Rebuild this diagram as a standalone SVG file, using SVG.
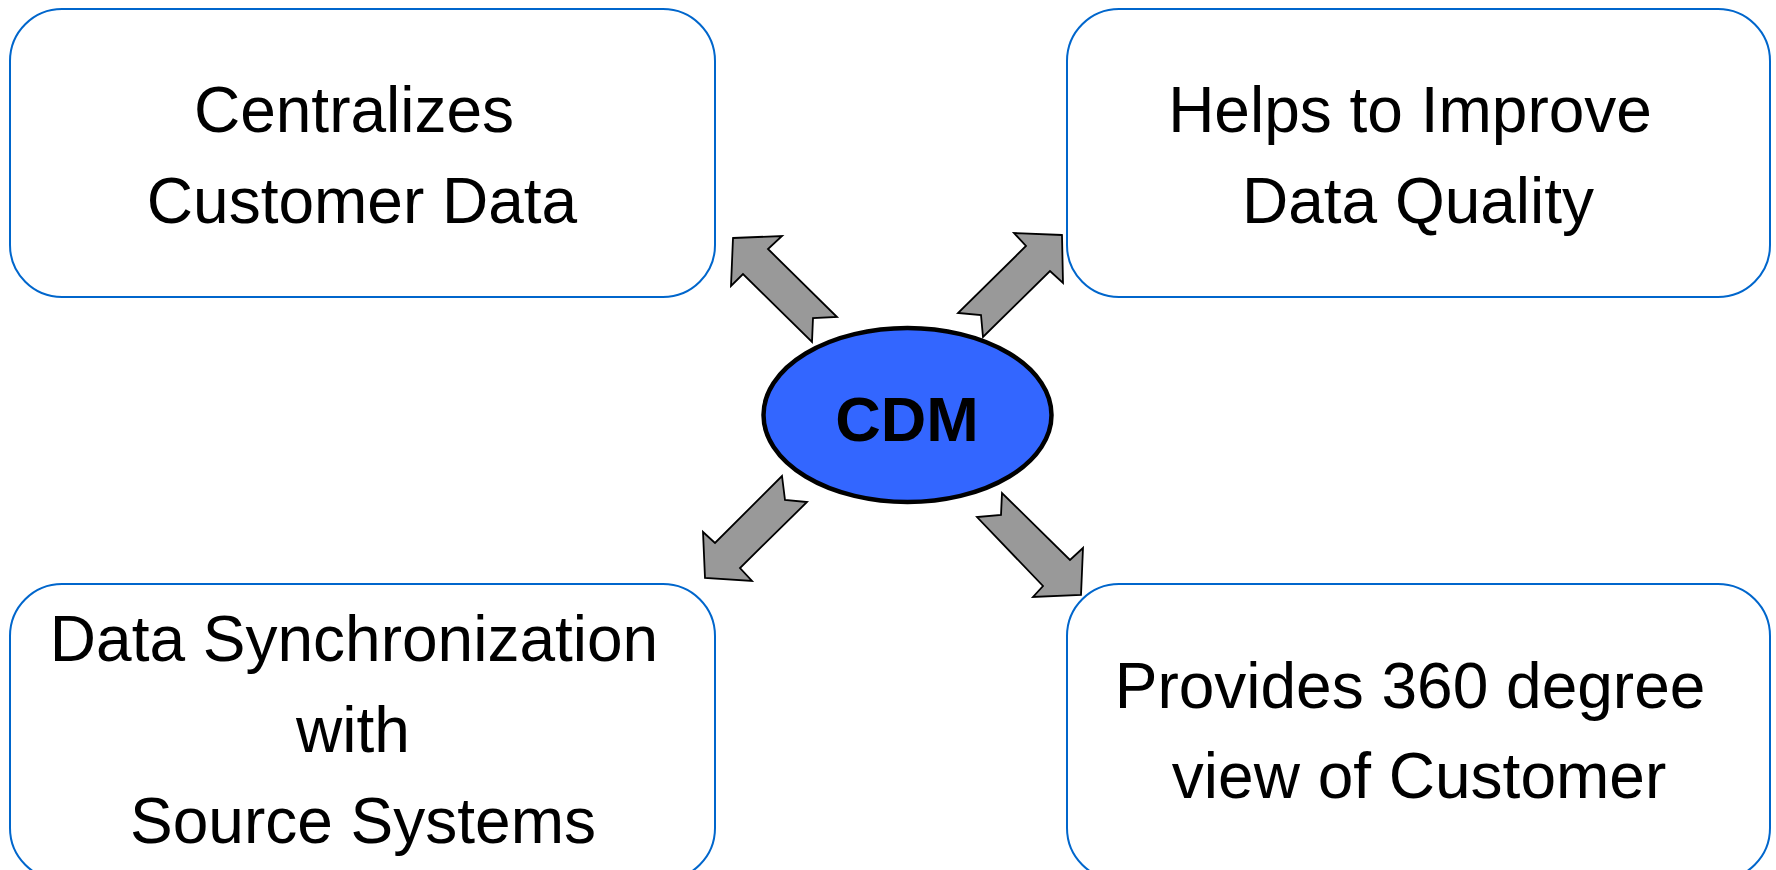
<svg xmlns="http://www.w3.org/2000/svg" width="1776" height="870" viewBox="0 0 1776 870">
<style>
.box{fill:#ffffff;stroke:#0066CC;stroke-width:2}
.lbl{font-family:"Liberation Sans",Arial,sans-serif;font-size:64px;fill:#000000;text-anchor:middle}
.arr{fill:#999999;stroke:#000000;stroke-width:1.8;stroke-linejoin:miter}
.core{fill:#3366FF;stroke:#000000;stroke-width:4.5}
.core-t{font-family:"Liberation Sans",Arial,sans-serif;font-size:63px;font-weight:bold;fill:#000000;text-anchor:middle}
</style>
<rect width="1776" height="870" fill="#ffffff"/>
<g id="node-centralizes">
<rect class="box" x="10" y="9" width="705" height="288" rx="52" ry="52"/>
<text class="lbl" x="354" y="132">Centralizes</text>
<text class="lbl" x="362" y="223">Customer Data</text>
</g>
<g id="node-quality">
<rect class="box" x="1067" y="9" width="703" height="288" rx="52" ry="52"/>
<text class="lbl" x="1410" y="132">Helps to Improve</text>
<text class="lbl" x="1418" y="223">Data Quality</text>
</g>
<g id="node-sync">
<rect class="box" x="10" y="584" width="705" height="296" rx="52" ry="52"/>
<text class="lbl" x="354" y="661">Data Synchronization</text>
<text class="lbl" x="353" y="752">with</text>
<text class="lbl" x="363" y="843">Source Systems</text>
</g>
<g id="node-360">
<rect class="box" x="1067" y="584" width="703" height="296" rx="52" ry="52"/>
<text class="lbl" x="1410" y="708">Provides 360 degree</text>
<text class="lbl" x="1419" y="798">view of Customer</text>
</g>
<g id="connectors">
<polygon class="arr" points="733,238 782,236 768,249 837,317 813,318 812,342 743,274 731,286"/>
<polygon class="arr" points="1062,235 1014,233 1026,246 958,313 981,315 983,337 1050,271 1063,283"/>
<polygon class="arr" points="782,476 785,500 807,502 740,568 752,581 705,578 703,532 715,543"/>
<polygon class="arr" points="1002,493 1001,515 977,517 1043,586 1033,597 1081,595 1083,548 1070,560"/>
</g>
<g id="node-cdm">
<ellipse class="core" cx="907.5" cy="415" rx="144" ry="87"/>
<text class="core-t" x="907" y="441">CDM</text>
</g>
</svg>
